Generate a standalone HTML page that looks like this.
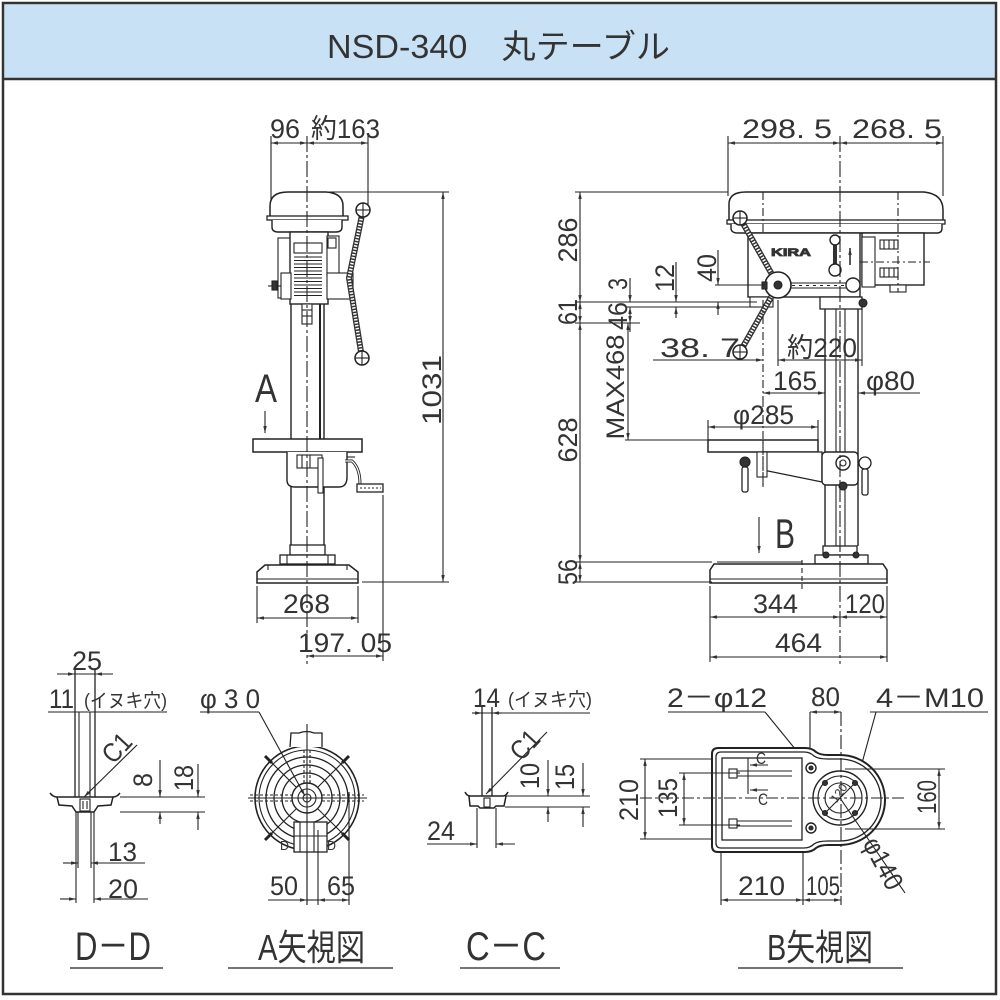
<!DOCTYPE html>
<html><head><meta charset="utf-8">
<style>
html,body{margin:0;padding:0;background:#fff;}
svg{display:block}
text{font-family:"Liberation Sans","Noto Sans CJK JP",sans-serif;fill:#333;}
</style></head>
<body>
<svg width="1000" height="1000" viewBox="0 0 1000 1000" xmlns="http://www.w3.org/2000/svg">
<defs>
<marker id="a" viewBox="0 0 8 4" refX="8" refY="2" markerWidth="7" markerHeight="3.5" orient="auto-start-reverse" markerUnits="userSpaceOnUse"><path d="M0,0 L8,2 L0,4z" fill="#333"/></marker>
</defs>

<!-- frame -->
<rect x="3" y="3" width="993" height="991" fill="#fff" stroke="#333" stroke-width="2.5"/>
<rect x="4.5" y="4.5" width="990" height="74" fill="#c9e1f4"/>
<line x1="3" y1="79" x2="996" y2="79" stroke="#333" stroke-width="2.5"/>
<text x="327" y="58" font-size="33" textLength="343" lengthAdjust="spacingAndGlyphs" fill="#222">NSD-340　丸テーブル</text>

<g stroke="#222" fill="none" stroke-width="1.1">

<!-- ================= FRONT VIEW ================= -->
<line x1="271" y1="136" x2="271" y2="206"/>
<line x1="368" y1="136" x2="368" y2="206"/>
<line x1="271" y1="143" x2="307" y2="143" marker-start="url(#a)" marker-end="url(#a)"/>
<line x1="307" y1="143" x2="368" y2="143" marker-start="url(#a)" marker-end="url(#a)"/>

<!-- column -->
<line x1="291" y1="304" x2="291" y2="547" stroke-width="1.4"/>
<line x1="324" y1="304" x2="324" y2="547" stroke-width="1.4"/>
<line x1="320" y1="304" x2="320" y2="440" stroke-width="2"/>

<!-- head -->
<path d="M270,218 L270,206 Q270,192 288,192 L326,192 Q343,193 343,206 L343,218 Z" fill="#fff" stroke-width="1.5"/>
<rect x="267" y="216" width="81" height="4" fill="#fff" stroke-width="1.3"/>
<path d="M272,220 L272,227 Q272,232 278,232 L336,232 Q342,232 342,227 L342,220" fill="#fff" stroke-width="1.4"/>
<rect x="278" y="238" width="13" height="60" fill="#fff"/>
<rect x="290" y="232" width="38" height="72" fill="#fff" stroke-width="1.4"/>
<rect x="294" y="243" width="28" height="10" fill="#fff"/>
<g stroke-width="1">
<line x1="294" y1="257" x2="322" y2="257"/><line x1="294" y1="260.5" x2="322" y2="260.5"/>
<line x1="294" y1="264" x2="322" y2="264"/><line x1="294" y1="267.5" x2="322" y2="267.5"/>
<line x1="294" y1="271" x2="322" y2="271"/><line x1="294" y1="274.5" x2="322" y2="274.5"/>
<line x1="294" y1="278" x2="322" y2="278"/><line x1="294" y1="281.5" x2="322" y2="281.5"/>
<line x1="294" y1="285" x2="322" y2="285"/><line x1="294" y1="288.5" x2="322" y2="288.5"/>
<line x1="294" y1="292" x2="322" y2="292"/><line x1="294" y1="295.5" x2="322" y2="295.5"/>
</g>
<rect x="327" y="236" width="12" height="40" fill="#fff"/>
<rect x="328" y="238" width="8" height="10" fill="#fff"/>
<rect x="281" y="273" width="10" height="26" fill="#fff"/>
<rect x="327" y="273" width="26" height="26" fill="#fff"/>
<line x1="268" y1="286" x2="281" y2="286"/>
<rect x="272" y="281" width="5" height="9" fill="#333"/>
<rect x="302" y="304" width="10" height="20" fill="#fff"/>
<line x1="302" y1="310" x2="312" y2="310"/><line x1="302" y1="316" x2="312" y2="316"/>

<!-- lever front -->
<polyline points="363,210 349,278 362,358" stroke="#333" stroke-width="6"/>
<polyline points="363,210 349,278 362,358" stroke="#fff" stroke-width="3.4" stroke-dasharray="1.5 1.5"/>
<circle cx="363" cy="210" r="7" fill="#fff" stroke-width="1.5"/>
<line x1="356" y1="210" x2="370" y2="210"/><line x1="363" y1="203" x2="363" y2="217"/>
<circle cx="362" cy="358" r="7" fill="#fff" stroke-width="1.5"/>
<line x1="355" y1="358" x2="369" y2="358"/><line x1="362" y1="351" x2="362" y2="365"/>

<!-- table front -->
<rect x="253" y="439" width="109" height="13" fill="#fff" stroke-width="1.5"/>
<path d="M287,452 L287,480 Q287,487 295,487 L339,487 Q347,487 347,477 L347,452" fill="#fff" stroke-width="1.4"/>
<rect x="297" y="455" width="25" height="13" fill="#fff"/>
<line x1="302" y1="455" x2="302" y2="468"/><line x1="310" y1="455" x2="310" y2="468"/>
<rect x="318" y="458" width="5" height="35" fill="#fff"/>
<path d="M345,461 L352,461 Q360,468 360,484" stroke-width="3" />
<path d="M345,461 L352,461 Q360,468 360,484" stroke="#fff" stroke-width="1.2"/>
<rect x="357" y="484" width="26" height="8" fill="#fff" stroke-width="1.3"/>
<line x1="360" y1="488" x2="381" y2="488" stroke-dasharray="2 2"/>
<line x1="347" y1="457" x2="355" y2="457"/>

<!-- base front -->
<rect x="290" y="545" width="35" height="10" fill="#fff" stroke-width="1.3"/>
<rect x="280" y="555" width="55" height="9" fill="#fff" stroke-width="1.3"/>
<path d="M257,583 L257,572 L265,565 L349,565 L358,572 L358,583 Z" fill="#fff" stroke-width="1.5"/>
<line x1="257" y1="579" x2="358" y2="579"/>
<line x1="268" y1="565" x2="268" y2="570"/><line x1="347" y1="565" x2="347" y2="570"/>
<line x1="287" y1="555" x2="287" y2="564"/><line x1="328" y1="555" x2="328" y2="564"/>

<!-- centerline front -->
<line x1="307" y1="136" x2="307" y2="664" stroke-dasharray="16 3 3 3"/>

<!-- front dims -->
<line x1="310" y1="192" x2="449" y2="192"/>
<line x1="362" y1="582" x2="449" y2="582"/>
<line x1="443" y1="192" x2="443" y2="582" marker-start="url(#a)" marker-end="url(#a)"/>
<line x1="257" y1="586" x2="257" y2="623"/>
<line x1="358" y1="586" x2="358" y2="623"/>
<line x1="257" y1="618" x2="358" y2="618" marker-start="url(#a)" marker-end="url(#a)"/>
<line x1="383" y1="495" x2="383" y2="661"/>
<line x1="307" y1="656" x2="383" y2="656" marker-start="url(#a)" marker-end="url(#a)"/>
<line x1="265" y1="411" x2="265" y2="433" marker-end="url(#a)"/>

<!-- ================= SIDE VIEW ================= -->
<line x1="728" y1="136" x2="728" y2="196"/>
<line x1="943" y1="136" x2="943" y2="196"/>
<line x1="728" y1="143" x2="840" y2="143" marker-start="url(#a)" marker-end="url(#a)"/>
<line x1="840" y1="143" x2="943" y2="143" marker-start="url(#a)" marker-end="url(#a)"/>

<!-- column side -->
<line x1="825" y1="309" x2="825" y2="546" stroke-width="1.4"/>
<line x1="858" y1="309" x2="858" y2="546" stroke-width="1.4"/>
<line x1="836" y1="309" x2="836" y2="546"/>
<line x1="845" y1="309" x2="845" y2="546"/>

<!-- head side -->
<path d="M729,222 L729,204 Q729,192 746,192 L924,192 Q943,194 943,210 L943,222 Z" fill="#fff" stroke-width="1.5"/>
<rect x="727" y="220" width="218" height="4" fill="#fff" stroke-width="1.3"/>
<path d="M731,224 L731,228 Q731,233 738,233 L937,233 Q942,233 942,228 L942,224" fill="#fff" stroke-width="1.4"/>
<rect x="748" y="233" width="112" height="64" fill="#fff" stroke-width="1.4"/>
<text x="771" y="256" font-size="11" font-weight="bold" textLength="40" lengthAdjust="spacingAndGlyphs" fill="#fff" stroke="#333" stroke-width="0.8">KIRA</text>
<rect x="862" y="233" width="62" height="52" fill="#fff" stroke-width="1.4"/>
<rect x="862" y="237" width="13" height="50" fill="#fff"/>
<rect x="880" y="240" width="18" height="9" fill="#fff"/>
<line x1="884" y1="240" x2="884" y2="249"/><line x1="889" y1="240" x2="889" y2="249"/><line x1="894" y1="240" x2="894" y2="249"/>
<rect x="880" y="268" width="18" height="9" fill="#fff"/>
<line x1="884" y1="268" x2="884" y2="277"/><line x1="889" y1="268" x2="889" y2="277"/><line x1="894" y1="268" x2="894" y2="277"/>
<rect x="890" y="285" width="16" height="7" fill="#fff"/>
<line x1="860" y1="262" x2="930" y2="262" stroke-dasharray="8 3 2 3"/>
<line x1="898" y1="192" x2="898" y2="292" stroke-dasharray="8 3 2 3"/>
<line x1="763" y1="192" x2="763" y2="233" stroke-dasharray="8 3 2 3"/>
<line x1="835" y1="245" x2="835" y2="265" stroke="#333" stroke-width="4"/>
<circle cx="835" cy="240" r="5" fill="#fff" stroke-width="1.4"/>
<circle cx="835" cy="270" r="6" fill="#fff" stroke-width="1.4"/>
<line x1="850" y1="265" x2="850" y2="248" marker-end="url(#a)" stroke-width="1.5"/>

<!-- quill & collar -->
<rect x="820" y="297" width="42" height="12" fill="#fff" stroke-width="1.3"/>
<circle cx="863" cy="303" r="4" fill="#333"/>
<rect x="750" y="297" width="23" height="10" fill="#fff"/>

<!-- feed arm -->
<line x1="790" y1="283" x2="848" y2="283"/>
<line x1="790" y1="288" x2="848" y2="288"/>
<line x1="792" y1="285.5" x2="846" y2="285.5" stroke-dasharray="3 4"/>
<circle cx="853" cy="285" r="7" fill="#fff" stroke-width="1.4"/>
<polyline points="740,218 778,285 740,352" stroke="#333" stroke-width="6"/>
<polyline points="740,218 778,285 740,352" stroke="#fff" stroke-width="3.4" stroke-dasharray="1.5 1.5"/>
<circle cx="778" cy="285" r="13" fill="#fff" stroke-width="1.6"/>
<circle cx="778" cy="285" r="4" fill="#333"/>
<rect x="762" y="282" width="5" height="7" fill="#333"/>
<circle cx="740" cy="218" r="7" fill="#fff" stroke-width="1.5"/>
<line x1="733" y1="218" x2="747" y2="218"/><line x1="740" y1="211" x2="740" y2="225"/>
<circle cx="740" cy="352" r="7" fill="#fff" stroke-width="1.5"/>
<line x1="733" y1="352" x2="747" y2="352"/><line x1="740" y1="345" x2="740" y2="359"/>

<!-- table side -->
<rect x="708" y="440" width="110" height="12" fill="#fff" stroke-width="1.5"/>
<path d="M763,452 L822,452 L822,482 L763,470 Z" fill="#fff" stroke-width="1.3"/>
<rect x="757" y="452" width="10" height="25" fill="#fff"/>
<circle cx="745" cy="462" r="5" fill="#333"/>
<rect x="742" y="467" width="6" height="25" rx="2" fill="#fff" stroke-width="1.3"/>
<rect x="822" y="452" width="36" height="33" rx="4" fill="#fff" stroke-width="1.4"/>
<circle cx="843" cy="463" r="7" fill="#fff" stroke-width="1.4"/>
<circle cx="843" cy="463" r="3" fill="#fff"/>
<circle cx="843" cy="486" r="4" fill="#333"/>
<circle cx="865" cy="463" r="6" fill="#fff" stroke-width="1.3"/>
<rect x="862" y="469" width="6" height="26" rx="2" fill="#fff" stroke-width="1.3"/>
<line x1="763" y1="440" x2="763" y2="487" stroke-dasharray="8 3 2 3"/>

<!-- base side -->
<rect x="823" y="546" width="34" height="9" fill="#fff" stroke-width="1.3"/>
<rect x="815" y="555" width="53" height="9" fill="#fff" stroke-width="1.3"/>
<circle cx="826" cy="555" r="3" fill="#333"/><circle cx="856" cy="555" r="3" fill="#333"/>
<path d="M710,583 L710,570 L714,564 L883,564 L887,570 L887,583 Z" fill="#fff" stroke-width="1.5"/>
<line x1="717" y1="562" x2="802" y2="562"/>
<line x1="710" y1="579" x2="887" y2="579"/>
<line x1="802" y1="560" x2="802" y2="590" stroke-dasharray="5 3"/>

<!-- centerline side -->
<line x1="840" y1="136" x2="840" y2="664" stroke-dasharray="16 3 3 3"/>

<!-- side left dims -->
<line x1="575" y1="192" x2="728" y2="192"/>
<line x1="575" y1="302" x2="757" y2="302"/>
<line x1="625" y1="307" x2="757" y2="307"/>
<line x1="575" y1="323" x2="640" y2="323"/>
<line x1="575" y1="562" x2="712" y2="562"/>
<line x1="575" y1="582" x2="712" y2="582"/>
<line x1="580" y1="192" x2="580" y2="302" marker-start="url(#a)" marker-end="url(#a)"/>
<line x1="580" y1="302" x2="580" y2="323" marker-start="url(#a)" marker-end="url(#a)"/>
<line x1="580" y1="323" x2="580" y2="562" marker-start="url(#a)" marker-end="url(#a)"/>
<line x1="580" y1="562" x2="580" y2="582" marker-start="url(#a)" marker-end="url(#a)"/>
<line x1="630" y1="278" x2="630" y2="302" marker-end="url(#a)"/>
<line x1="630" y1="307" x2="630" y2="323" marker-start="url(#a)" marker-end="url(#a)"/>
<line x1="630" y1="323" x2="630" y2="332"/>
<line x1="628" y1="323" x2="628" y2="440" marker-start="url(#a)" marker-end="url(#a)"/>
<line x1="625" y1="440" x2="708" y2="440"/>
<line x1="676" y1="262" x2="676" y2="302" marker-end="url(#a)"/>
<line x1="676" y1="307" x2="676" y2="318" marker-start="url(#a)"/>
<line x1="715" y1="285" x2="765" y2="285"/>
<line x1="718" y1="250" x2="718" y2="285" marker-end="url(#a)"/>
<line x1="718" y1="302" x2="718" y2="315" marker-start="url(#a)"/>
<line x1="778" y1="300" x2="778" y2="366"/>
<line x1="862" y1="309" x2="862" y2="366"/>
<line x1="653" y1="360" x2="763" y2="360" marker-end="url(#a)"/>
<line x1="778" y1="360" x2="862" y2="360" marker-start="url(#a)" marker-end="url(#a)"/>
<line x1="763" y1="487" x2="763" y2="398" stroke-dasharray="8 3 2 3"/>
<line x1="763" y1="300" x2="763" y2="400" stroke-dasharray="8 3 2 3"/>
<line x1="763" y1="393" x2="825" y2="393" marker-start="url(#a)" marker-end="url(#a)"/>
<line x1="858" y1="393" x2="920" y2="393" marker-start="url(#a)"/>
<line x1="708" y1="420" x2="708" y2="440"/>
<line x1="818" y1="420" x2="818" y2="440"/>
<line x1="708" y1="427" x2="818" y2="427" marker-start="url(#a)" marker-end="url(#a)"/>
<line x1="759" y1="517" x2="759" y2="553" marker-end="url(#a)"/>
<line x1="710" y1="586" x2="710" y2="662"/>
<line x1="887" y1="586" x2="887" y2="662"/>
<line x1="710" y1="617" x2="840" y2="617" marker-start="url(#a)" marker-end="url(#a)"/>
<line x1="840" y1="617" x2="887" y2="617" marker-start="url(#a)" marker-end="url(#a)"/>
<line x1="710" y1="657" x2="887" y2="657" marker-start="url(#a)" marker-end="url(#a)"/>

<!-- ================= D-D ================= -->
<line x1="57" y1="674" x2="113" y2="674"/>
<line x1="57" y1="674" x2="75" y2="674" marker-end="url(#a)"/>
<line x1="113" y1="674" x2="95" y2="674" marker-end="url(#a)"/>
<line x1="48" y1="712" x2="167" y2="712"/>
<line x1="75" y1="668" x2="75" y2="797" stroke-width="1.3"/>
<line x1="95" y1="668" x2="95" y2="797" stroke-width="1.3"/>
<line x1="79" y1="712" x2="79" y2="797"/>
<line x1="90" y1="712" x2="90" y2="797"/>
<line x1="137" y1="745" x2="84" y2="797" marker-end="url(#a)"/>
<path d="M50,793 Q53,797 57,797 L113,797 Q117,797 120,793" stroke-width="1.5"/>
<path d="M57,797 L59,805 L72,806 L76,812 L94,812 L98,806 L111,805 L113,797" stroke-width="1.5"/>
<rect x="80" y="799" width="10" height="12"/>
<line x1="83" y1="801" x2="83" y2="809"/><line x1="87" y1="801" x2="87" y2="809"/>
<line x1="120" y1="797" x2="205" y2="797"/>
<line x1="120" y1="812" x2="205" y2="812"/>
<line x1="160" y1="760" x2="160" y2="797" marker-end="url(#a)"/>
<line x1="160" y1="812" x2="160" y2="824" marker-start="url(#a)"/>
<line x1="198" y1="764" x2="198" y2="797" marker-end="url(#a)"/>
<line x1="198" y1="812" x2="198" y2="830" marker-start="url(#a)"/>
<line x1="78" y1="812" x2="78" y2="868"/>
<line x1="91" y1="812" x2="91" y2="868"/>
<line x1="76" y1="812" x2="76" y2="903"/>
<line x1="94" y1="812" x2="94" y2="903"/>
<line x1="63" y1="863" x2="78" y2="863" marker-end="url(#a)"/>
<line x1="145" y1="863" x2="91" y2="863" marker-end="url(#a)"/>
<line x1="60" y1="899" x2="76" y2="899" marker-end="url(#a)"/>
<line x1="148" y1="899" x2="94" y2="899" marker-end="url(#a)"/>
<line x1="70" y1="968" x2="163" y2="968" stroke-width="1.3"/>

<!-- ================= A view ================= -->
<line x1="200" y1="712" x2="259" y2="712"/>
<line x1="259" y1="712" x2="305" y2="796" marker-end="url(#a)"/>
<circle cx="307" cy="798" r="52" stroke-width="1.6"/>
<circle cx="307" cy="798" r="48"/>
<circle cx="307" cy="798" r="41" stroke-width="1.3"/>
<circle cx="307" cy="798" r="33" stroke-width="1.3"/>
<circle cx="307" cy="798" r="25" stroke-width="1.3"/>
<circle cx="307" cy="798" r="15" stroke-width="1.4"/>
<circle cx="307" cy="798" r="9"/>
<circle cx="307" cy="798" r="4"/>
<line x1="248" y1="798" x2="367" y2="798"/>
<line x1="250" y1="795" x2="292" y2="795" stroke-dasharray="3 2"/>
<line x1="250" y1="801" x2="292" y2="801" stroke-dasharray="3 2"/>
<line x1="322" y1="795" x2="364" y2="795" stroke-dasharray="3 2"/>
<line x1="322" y1="801" x2="364" y2="801" stroke-dasharray="3 2"/>
<line x1="304" y1="750" x2="304" y2="783" stroke-dasharray="3 2"/>
<line x1="310" y1="750" x2="310" y2="783" stroke-dasharray="3 2"/>
<line x1="270" y1="761" x2="296" y2="787"/>
<line x1="344" y1="761" x2="318" y2="787"/>
<line x1="270" y1="835" x2="296" y2="809"/>
<line x1="344" y1="835" x2="318" y2="809"/>
<line x1="265" y1="756" x2="272" y2="763" stroke-width="3"/>
<line x1="349" y1="756" x2="342" y2="763" stroke-width="3"/>
<line x1="265" y1="840" x2="272" y2="833" stroke-width="3"/>
<line x1="349" y1="840" x2="342" y2="833" stroke-width="3"/>
<path d="M290,747 L291,733 L299,733 Q307,730 314,733 L322,733 L322,747" fill="#fff" stroke-width="1.3"/>
<line x1="307" y1="724" x2="307" y2="905"/>
<rect x="294" y="822" width="33" height="30" fill="#fff" stroke-width="1.3"/>
<line x1="300" y1="822" x2="300" y2="852"/><line x1="314" y1="822" x2="314" y2="852"/>
<line x1="294" y1="836" x2="327" y2="836"/>
<line x1="307" y1="822" x2="307" y2="905"/>
<line x1="318" y1="830" x2="318" y2="905"/>
<line x1="349" y1="792" x2="349" y2="905"/>
<line x1="268" y1="900" x2="307" y2="900" marker-end="url(#a)"/>
<line x1="307" y1="900" x2="318" y2="900"/>
<line x1="318" y1="900" x2="349" y2="900" marker-start="url(#a)" marker-end="url(#a)"/>
<line x1="228" y1="968" x2="393" y2="968" stroke-width="1.3"/>

<!-- ================= C-C ================= -->
<line x1="472" y1="713" x2="590" y2="713"/>
<line x1="472" y1="713" x2="482" y2="713" marker-end="url(#a)"/>
<line x1="502" y1="713" x2="492" y2="713" marker-end="url(#a)"/>
<line x1="482" y1="707" x2="482" y2="796" stroke-width="1.3"/>
<line x1="492" y1="707" x2="492" y2="796" stroke-width="1.3"/>
<line x1="547" y1="732" x2="486" y2="794" marker-end="url(#a)"/>
<path d="M465,792 Q467,796 470,796 L503,796 Q506,796 508,792" stroke-width="1.5"/>
<path d="M469,796 L470,806 L478,806 L480,808 L494,808 L496,806 L504,806 L506,796" stroke-width="1.5"/>
<rect x="484" y="798" width="6" height="9"/>
<line x1="505" y1="796" x2="590" y2="796"/>
<line x1="505" y1="807" x2="590" y2="807"/>
<line x1="548" y1="760" x2="548" y2="796" marker-end="url(#a)"/>
<line x1="548" y1="807" x2="548" y2="822" marker-start="url(#a)"/>
<line x1="583" y1="763" x2="583" y2="796" marker-end="url(#a)"/>
<line x1="583" y1="807" x2="583" y2="827" marker-start="url(#a)"/>
<line x1="477" y1="808" x2="477" y2="848"/>
<line x1="496" y1="808" x2="496" y2="848"/>
<line x1="427" y1="844" x2="477" y2="844" marker-end="url(#a)"/>
<line x1="515" y1="844" x2="496" y2="844" marker-end="url(#a)"/>
<line x1="460" y1="968" x2="560" y2="968" stroke-width="1.3"/>

<!-- ================= B view ================= -->
<line x1="668" y1="712" x2="765" y2="712"/>
<line x1="765" y1="712" x2="809" y2="766" marker-end="url(#a)"/>
<line x1="810" y1="712" x2="810" y2="756"/>
<line x1="810" y1="712" x2="841" y2="712" marker-start="url(#a)" marker-end="url(#a)"/>
<line x1="870" y1="712" x2="988" y2="712"/>
<line x1="876" y1="712" x2="856" y2="785" marker-end="url(#a)"/>
<path d="M718,748 L805,748 Q812,748 816,752 Q820,755 828,755 L840,755 A45,45 0 0 1 840,845 L828,845 Q820,845 816,848 Q812,852 805,852 L718,852 Q712,852 712,846 L712,754 Q712,748 718,748 Z" fill="#fff" stroke-width="2"/>
<path d="M721,752 L804,752 Q810,752 814,756 Q818,759 828,759 L840,759 A41,41 0 0 1 840,841 L828,841 Q818,841 814,844 Q810,848 804,848 L721,848 Q716,848 716,843 L716,757 Q716,752 721,752 Z" stroke-width="1.3"/>
<rect x="722" y="758" width="80" height="82" stroke-width="1.3"/>
<rect x="729" y="769" width="8" height="9"/>
<line x1="737" y1="771" x2="792" y2="771"/>
<line x1="737" y1="776" x2="792" y2="776"/>
<rect x="729" y="819" width="8" height="9"/>
<line x1="737" y1="821" x2="792" y2="821"/>
<line x1="737" y1="826" x2="792" y2="826"/>
<line x1="748" y1="758" x2="748" y2="794"/>
<line x1="768" y1="765" x2="750" y2="765" marker-end="url(#a)"/>
<line x1="768" y1="790" x2="750" y2="790" marker-end="url(#a)"/>
<circle cx="811" cy="768" r="5" stroke-width="1.4"/>
<circle cx="811" cy="768" r="2" fill="#333"/>
<circle cx="811" cy="828" r="5" stroke-width="1.4"/>
<circle cx="811" cy="828" r="2" fill="#333"/>
<circle cx="840" cy="798" r="27" stroke-width="1.4"/>
<circle cx="840" cy="798" r="22"/>
<circle cx="840" cy="798" r="15"/>
<circle cx="855" cy="783" r="2.5" fill="#333"/>
<circle cx="825" cy="783" r="2.5" fill="#333"/>
<circle cx="825" cy="813" r="2.5" fill="#333"/>
<circle cx="855" cy="813" r="2.5" fill="#333"/>
<line x1="826" y1="812" x2="854" y2="784"/>
<line x1="640" y1="798" x2="905" y2="798" stroke-dasharray="12 3 3 3"/>
<line x1="841" y1="712" x2="841" y2="905" stroke-dasharray="14 3 3 3"/>
<line x1="840" y1="798" x2="905" y2="893"/>
<line x1="640" y1="759" x2="712" y2="759"/>
<line x1="640" y1="839" x2="712" y2="839"/>
<line x1="645" y1="759" x2="645" y2="839" marker-start="url(#a)" marker-end="url(#a)"/>
<line x1="679" y1="773" x2="740" y2="773"/>
<line x1="679" y1="825" x2="740" y2="825"/>
<line x1="684" y1="773" x2="684" y2="825" marker-start="url(#a)" marker-end="url(#a)"/>
<line x1="845" y1="769" x2="945" y2="769"/>
<line x1="845" y1="829" x2="945" y2="829"/>
<line x1="939" y1="769" x2="939" y2="829" marker-start="url(#a)" marker-end="url(#a)"/>
<line x1="721" y1="852" x2="721" y2="905"/>
<line x1="803" y1="852" x2="803" y2="905"/>
<line x1="721" y1="900" x2="803" y2="900" marker-start="url(#a)" marker-end="url(#a)"/>
<line x1="803" y1="900" x2="841" y2="900" marker-start="url(#a)" marker-end="url(#a)"/>
<line x1="738" y1="968" x2="903" y2="968" stroke-width="1.3"/>
</g>

<!-- ================= TEXT ================= -->
<g font-size="27">
<text x="270" y="138" textLength="30" lengthAdjust="spacingAndGlyphs">96</text>
<text x="311" y="138" textLength="69" lengthAdjust="spacingAndGlyphs">約163</text>
<text x="742" y="138" textLength="90" lengthAdjust="spacingAndGlyphs">298. 5</text>
<text x="852" y="138" textLength="90" lengthAdjust="spacingAndGlyphs">268. 5</text>
<text transform="translate(431,390) rotate(-90)" x="0" y="10" text-anchor="middle" textLength="70" lengthAdjust="spacingAndGlyphs">1031</text>
<text x="283" y="613" textLength="47" lengthAdjust="spacingAndGlyphs">268</text>
<text x="298" y="652" textLength="94" lengthAdjust="spacingAndGlyphs">197. 05</text>
<text x="753" y="613" textLength="45" lengthAdjust="spacingAndGlyphs">344</text>
<text x="845" y="613" textLength="40" lengthAdjust="spacingAndGlyphs">120</text>
<text x="775" y="652" textLength="47" lengthAdjust="spacingAndGlyphs">464</text>
<text transform="translate(567,240) rotate(-90)" x="0" y="10" text-anchor="middle" textLength="45" lengthAdjust="spacingAndGlyphs">286</text>
<text transform="translate(567,312) rotate(-90)" x="0" y="10" text-anchor="middle" textLength="26" lengthAdjust="spacingAndGlyphs">61</text>
<text transform="translate(567,440) rotate(-90)" x="0" y="10" text-anchor="middle" textLength="45" lengthAdjust="spacingAndGlyphs">628</text>
<text transform="translate(567,572) rotate(-90)" x="0" y="10" text-anchor="middle" textLength="26" lengthAdjust="spacingAndGlyphs">56</text>
<text transform="translate(617,284) rotate(-90)" x="0" y="10" text-anchor="middle" textLength="12" lengthAdjust="spacingAndGlyphs">3</text>
<text transform="translate(617,316) rotate(-90)" x="0" y="10" text-anchor="middle" textLength="28" lengthAdjust="spacingAndGlyphs">46</text>
<text transform="translate(615,387) rotate(-90)" x="0" y="9" text-anchor="middle" textLength="105" lengthAdjust="spacingAndGlyphs" font-size="25">MAX468</text>
<text transform="translate(664,278) rotate(-90)" x="0" y="10" text-anchor="middle" textLength="28" lengthAdjust="spacingAndGlyphs">12</text>
<text transform="translate(706,268) rotate(-90)" x="0" y="10" text-anchor="middle" textLength="28" lengthAdjust="spacingAndGlyphs">40</text>
<text x="660" y="357" textLength="80" lengthAdjust="spacingAndGlyphs">38. 7</text>
<text x="787" y="357" textLength="70" lengthAdjust="spacingAndGlyphs">約220</text>
<text x="773" y="390" textLength="44" lengthAdjust="spacingAndGlyphs">165</text>
<text x="866" y="390" textLength="49" lengthAdjust="spacingAndGlyphs">φ80</text>
<text x="733" y="424" textLength="61" lengthAdjust="spacingAndGlyphs">φ285</text>
<text x="255" y="402" font-size="40" textLength="22" lengthAdjust="spacingAndGlyphs">A</text>
<text x="775" y="548" font-size="42" textLength="20" lengthAdjust="spacingAndGlyphs">B</text>

<!-- D-D -->
<text x="72" y="670" textLength="30" lengthAdjust="spacingAndGlyphs">25</text>
<text x="49" y="708" textLength="25" lengthAdjust="spacingAndGlyphs">11</text>
<text x="84" y="707" font-size="19" textLength="83" lengthAdjust="spacingAndGlyphs">(イヌキ穴)</text>
<text transform="translate(117,748) rotate(-47)" x="0" y="9" text-anchor="middle" textLength="30" lengthAdjust="spacingAndGlyphs">C1</text>
<text transform="translate(143,780) rotate(-90)" x="0" y="9" text-anchor="middle" textLength="14" lengthAdjust="spacingAndGlyphs">8</text>
<text transform="translate(184,778) rotate(-90)" x="0" y="9" text-anchor="middle" textLength="26" lengthAdjust="spacingAndGlyphs">18</text>
<text x="108" y="861" textLength="29" lengthAdjust="spacingAndGlyphs">13</text>
<text x="108" y="898" textLength="30" lengthAdjust="spacingAndGlyphs">20</text>
<text x="75" y="960" font-size="40" textLength="76" lengthAdjust="spacingAndGlyphs">D－D</text>

<!-- A view -->
<text x="200" y="708" textLength="60" lengthAdjust="spacingAndGlyphs">φ 3 0</text>
<text x="280" y="850" font-size="13" textLength="9" lengthAdjust="spacingAndGlyphs">D</text>
<text x="327" y="850" font-size="13" textLength="9" lengthAdjust="spacingAndGlyphs">D</text>
<text x="270" y="895" textLength="28" lengthAdjust="spacingAndGlyphs">50</text>
<text x="327" y="895" textLength="28" lengthAdjust="spacingAndGlyphs">65</text>
<text x="258" y="960" font-size="36" textLength="107" lengthAdjust="spacingAndGlyphs">A矢視図</text>

<!-- C-C -->
<text x="473" y="707" textLength="27" lengthAdjust="spacingAndGlyphs">14</text>
<text x="508" y="706" font-size="19" textLength="84" lengthAdjust="spacingAndGlyphs">(イヌキ穴)</text>
<text transform="translate(525,745) rotate(-47)" x="0" y="9" text-anchor="middle" textLength="30" lengthAdjust="spacingAndGlyphs">C1</text>
<text transform="translate(530,776) rotate(-90)" x="0" y="9" text-anchor="middle" textLength="26" lengthAdjust="spacingAndGlyphs">10</text>
<text transform="translate(565,777) rotate(-90)" x="0" y="9" text-anchor="middle" textLength="26" lengthAdjust="spacingAndGlyphs">15</text>
<text x="427" y="840" textLength="28" lengthAdjust="spacingAndGlyphs">24</text>
<text x="466" y="960" font-size="40" textLength="80" lengthAdjust="spacingAndGlyphs">C－C</text>

<!-- B view -->
<text x="667" y="707" textLength="100" lengthAdjust="spacingAndGlyphs">2－φ12</text>
<text x="811" y="706" textLength="29" lengthAdjust="spacingAndGlyphs">80</text>
<text x="876" y="707" textLength="108" lengthAdjust="spacingAndGlyphs">4－M10</text>
<text x="756" y="764" font-size="17" textLength="10" lengthAdjust="spacingAndGlyphs">C</text>
<text x="758" y="805" font-size="17" textLength="10" lengthAdjust="spacingAndGlyphs">C</text>
<text transform="translate(839,793) rotate(-55)" x="0" y="4" text-anchor="middle" font-size="12" textLength="20" lengthAdjust="spacingAndGlyphs">120</text>
<text transform="translate(628,800) rotate(-90)" x="0" y="10" text-anchor="middle" textLength="42" lengthAdjust="spacingAndGlyphs">210</text>
<text transform="translate(667,798) rotate(-90)" x="0" y="10" text-anchor="middle" textLength="40" lengthAdjust="spacingAndGlyphs">135</text>
<text transform="translate(926,797) rotate(-90)" x="0" y="10" text-anchor="middle" textLength="34" lengthAdjust="spacingAndGlyphs">160</text>
<text transform="translate(884,863) rotate(62)" x="0" y="10" text-anchor="middle" textLength="55" lengthAdjust="spacingAndGlyphs">φ140</text>
<text x="738" y="895" textLength="47" lengthAdjust="spacingAndGlyphs">210</text>
<text x="806" y="895" textLength="34" lengthAdjust="spacingAndGlyphs">105</text>
<text x="767" y="960" font-size="36" textLength="106" lengthAdjust="spacingAndGlyphs">B矢視図</text>
</g>
</svg>
</body></html>
